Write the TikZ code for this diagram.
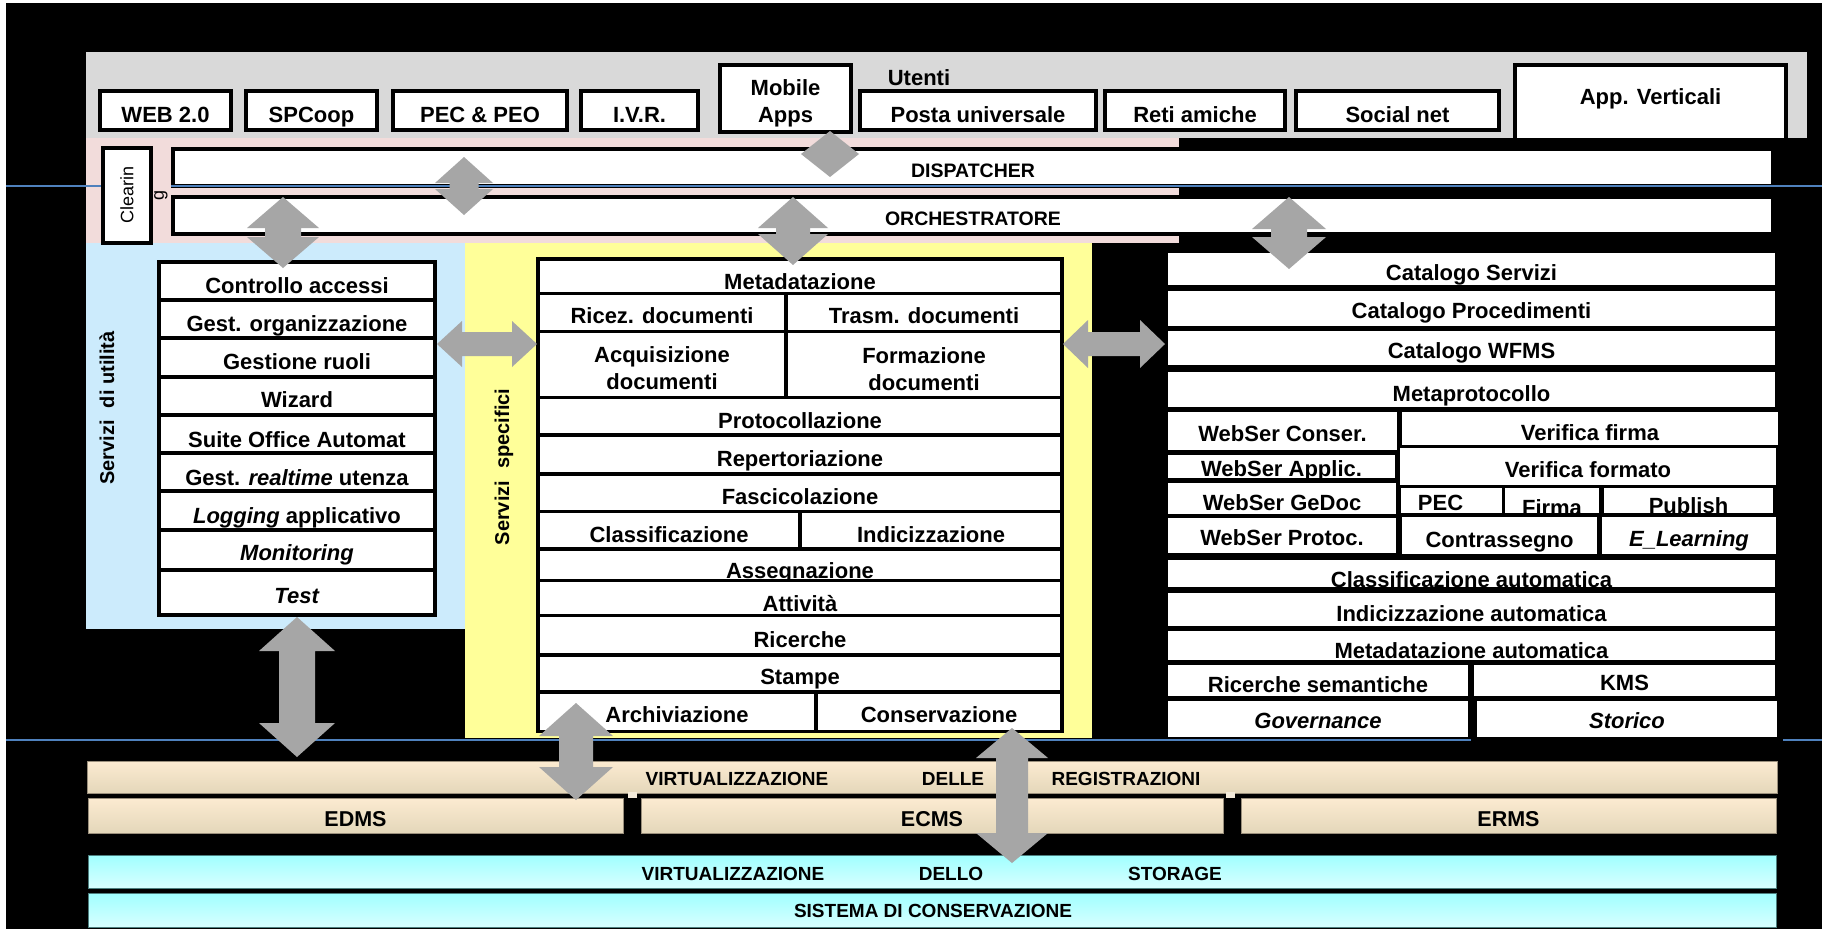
\documentclass[tikz,border=0pt]{standalone}
\usepackage{fontspec}
\setmainfont{Liberation Sans}
\definecolor{graybg}{HTML}{D9D9D9}
\definecolor{pinkbg}{HTML}{F2DCDB}
\definecolor{bluebg}{HTML}{CCEBFC}
\definecolor{yellowbg}{HTML}{FFFF99}
\definecolor{arrowgray}{HTML}{A6A6A6}
\definecolor{bline}{HTML}{4F81BD}
\definecolor{beigeT}{HTML}{FCEBD1}
\definecolor{beigeM}{HTML}{F3EADA}
\definecolor{beigeB}{HTML}{E4D7BA}
\definecolor{beigeE}{HTML}{9A8F7C}
\definecolor{cyanT}{HTML}{A0FFFF}
\definecolor{cyanB}{HTML}{D8FFFF}
\definecolor{cyanE}{HTML}{4D7F7F}
\tikzset{
  sbx/.style={draw=black, line width=3.5pt, fill=white, inner sep=0pt, outer sep=0pt},
  wbx/.style={fill=white, draw=none, inner sep=0pt, outer sep=0pt},
  txt/.style={font=\bfseries\fontsize{22}{26}\selectfont, inner sep=0pt, anchor=base},
  stxt/.style={font=\bfseries\fontsize{19.5}{23}\selectfont},
  btxt/.style={font=\bfseries\fontsize{19}{23}\selectfont, inner sep=0pt, anchor=base},
  mtxt/.style={font=\bfseries\fontsize{21.5}{25}\selectfont, inner sep=0pt, anchor=base},
  rlbl/.style={font=\bfseries\fontsize{20}{24}\selectfont, rotate=90, inner sep=0pt},
  beigebar/.style={top color=beigeT, middle color=beigeM, bottom color=beigeB, draw=beigeE, line width=0.8pt, inner sep=0pt, outer sep=0pt},
  cyanbar/.style={top color=cyanT, bottom color=cyanB, draw=cyanE, line width=0.8pt, inner sep=0pt, outer sep=0pt},
  blueln/.style={draw=bline, line width=2.5pt},
  agray/.style={fill=arrowgray}
}
% bordered cell: [text opts]{name}{x1}{y1}{x2}{y2}{baseline}{text}
\newcommand\bcell[8][]{%
  \node[sbx, minimum width={#5-#3}, minimum height={#6-#4}] (#2) at ({(#3+#5)/2},{(#4+#6)/2}) {};
  \begin{scope}
    \clip ({#3+1.75},{#4+1.75}) rectangle ({#5-1.75},{#6-1.75});
    \node[txt,#1] (#2t) at ({(#3+#5)/2},#7) {#8};
  \end{scope}}
% white cell without border
\newcommand\wcell[8][]{%
  \node[wbx, minimum width={#5-#3}, minimum height={#6-#4}] (#2) at ({(#3+#5)/2},{(#4+#6)/2}) {};
  \begin{scope}
    \clip (#3,#4) rectangle (#5,#6);
    \node[txt,#1] (#2t) at ({(#3+#5)/2},#7) {#8};
  \end{scope}}
% vertical double block arrow: cx, ytop, ybot, head half width, shaft half width, head length
\newcommand\varr[6]{%
  \fill[agray] (#1,#2) -- ({#1+#4},{#2+#6}) -- ({#1+#5},{#2+#6}) -- ({#1+#5},{#3-#6}) -- ({#1+#4},{#3-#6}) -- (#1,#3)
    -- ({#1-#4},{#3-#6}) -- ({#1-#5},{#3-#6}) -- ({#1-#5},{#2+#6}) -- ({#1-#4},{#2+#6}) -- cycle;}
% horizontal double block arrow: cy, xleft, xright, head half height, shaft half height, head length
\newcommand\harr[6]{%
  \fill[agray] (#2,#1) -- ({#2+#6},{#1-#4}) -- ({#2+#6},{#1-#5}) -- ({#3-#6},{#1-#5}) -- ({#3-#6},{#1-#4}) -- (#3,#1)
    -- ({#3-#6},{#1+#4}) -- ({#3-#6},{#1+#5}) -- ({#2+#6},{#1+#5}) -- ({#2+#6},{#1+#4}) -- cycle;}
\begin{document}
\begin{tikzpicture}[x=1pt,y=-1pt]
\useasboundingbox (0,0) rectangle (1822,929);
\fill[white] (0,0) rectangle (1822,929);
\fill[black] (6,3) rectangle (1822,929);
% panels
\fill[graybg] (86,52) rectangle (1807,138);
\fill[pinkbg] (86,138) rectangle (1179,243);
\fill[bluebg] (86,243) rectangle (465,629);
\fill[yellowbg] (465,243) rectangle (1092,738);
\node[txt] (utenti) at (919,85) {Utenti};
% top row
\bcell{web}{100}{91}{231}{130}{122}{WEB 2.0}
\bcell{spc}{246}{91}{377}{130}{122}{SPCoop}
\bcell{pec}{393}{91}{567}{130}{122}{PEC \& PEO}
\bcell{ivr}{581}{91}{698}{130}{122}{I.V.R.}
\bcell{mob}{720}{65}{851}{132}{95}{Mobile}
\node[txt] (mobt2) at (785.5,122) {Apps};
\bcell{posta}{860}{91}{1096}{130}{122}{Posta universale}
\bcell{reti}{1105}{91}{1285}{130}{122}{Reti amiche}
\bcell{social}{1296}{91}{1499}{130}{122}{Social net}
\bcell{appv}{1515}{65}{1786}{140}{104}{App. Verticali}
% clearing
\node[sbx, minimum width=48, minimum height=95] (clr) at (127,195.5) {};
\node[font=\fontsize{18}{20}\selectfont, rotate=90, inner sep=0pt] (clrt) at (127,195) {Clearin};
\node[font=\fontsize{18}{20}\selectfont, rotate=90, inner sep=0pt] (clrg) at (161,195) {g};
% dispatcher / orchestratore
\bcell[stxt]{disp}{173}{149}{1773}{186}{177}{DISPATCHER}
\bcell[stxt]{orch}{173}{197}{1773}{234}{225}{ORCHESTRATORE}
% utility services
\node[rlbl] (lblu) at (107,408) {Servizi\hspace{0.6em}di utilità};
\bcell{u1}{159}{262}{435}{300}{293}{Controllo accessi}
\bcell{u2}{159}{300}{435}{338}{331}{Gest. organizzazione}
\bcell{u3}{159}{338}{435}{377}{369}{Gestione ruoli}
\bcell{u4}{159}{377}{435}{415}{407}{Wizard}
\bcell{u5}{159}{415}{435}{453}{447}{Suite Office Automat}
\bcell{u6}{159}{453}{435}{491}{485}{Gest. \textit{realtime} utenza}
\bcell{u7}{159}{491}{435}{530}{523}{\textit{Logging} applicativo}
\bcell{u8}{159}{530}{435}{570}{560}{\textit{Monitoring}}
\bcell{u9}{159}{570}{435}{615}{603}{\textit{Test}}
% specific services
\node[rlbl] (lbls) at (504,467) {Servizi\hspace{0.6em}specifici};
\bcell{s1}{538}{259}{1062}{293.5}{289}{Metadatazione}
\bcell{s2a}{538}{293.5}{786}{331.5}{323}{Ricez. documenti}
\bcell{s2b}{786}{293.5}{1062}{331.5}{323}{Trasm. documenti}
\bcell{s3a}{538}{331.5}{786}{397.5}{362}{Acquisizione}
\node[txt] (s3a2) at (662,389) {documenti};
\bcell{s3b}{786}{331.5}{1062}{397.5}{363}{Formazione}
\node[txt] (s3b2) at (924,390) {documenti};
\bcell{s4}{538}{397.5}{1062}{435}{428}{Protocollazione}
\bcell{s5}{538}{435}{1062}{474}{466}{Repertoriazione}
\bcell{s6}{538}{474}{1062}{511.5}{504}{Fascicolazione}
\bcell{s7a}{538}{511.5}{800}{549}{542}{Classificazione}
\bcell{s7b}{800}{511.5}{1062}{549}{542}{Indicizzazione}
\bcell{s8}{538}{549}{1062}{580.5}{578}{Assegnazione}
\bcell{s9}{538}{580.5}{1062}{615.5}{611}{Attività}
\bcell{s10}{538}{615.5}{1062}{655}{647}{Ricerche}
\bcell{s11}{538}{655}{1062}{692}{684}{Stampe}
\bcell{s12a}{538}{692}{816}{731.5}{722}{Archiviazione}
\bcell{s12b}{816}{692}{1062}{731.5}{722}{Conservazione}
% catalog column
\wcell{c1}{1168}{253}{1775}{285}{280}{Catalogo Servizi}
\wcell{c2}{1168}{291}{1775}{326}{318}{Catalogo Procedimenti}
\wcell{c3}{1168}{331}{1775}{365}{358}{Catalogo WFMS}
\wcell{c4}{1168}{372}{1775}{407}{401}{Metaprotocollo}
\wcell{c5a}{1168}{412}{1397}{450}{441}{WebSer Conser.}
\wcell{c5b}{1402}{412}{1778}{445}{440}{Verifica firma}
\wcell{c6a}{1168}{455}{1395}{478}{476}{WebSer Applic.}
\wcell{c6b}{1400}{448}{1776}{485}{477}{Verifica formato}
\wcell{c7a}{1168}{483}{1396}{514}{510}{WebSer GeDoc}
\wcell[xshift=-11pt]{c7b}{1401}{488}{1502}{513}{510}{PEC}
\wcell{c7c}{1505}{488}{1599}{513}{515}{Firma}
\wcell{c7d}{1604}{488}{1773}{513}{513}{Publish}
\wcell{c8a}{1168}{518}{1396}{553}{545}{WebSer Protoc.}
\wcell{c8b}{1402}{517}{1597}{554}{547}{Contrassegno}
\wcell{c8c}{1602}{517}{1776}{554}{546}{\textit{E\_Learning}}
\wcell{c9}{1168}{560}{1775}{587}{587}{Classificazione automatica}
\wcell{c10}{1168}{593}{1775}{626}{621}{Indicizzazione automatica}
\wcell{c11}{1168}{631}{1775}{660}{658}{Metadatazione automatica}
\wcell{c12a}{1168}{665}{1468}{696}{692}{Ricerche semantiche}
\wcell{c12b}{1474}{665}{1775}{696}{690}{KMS}
\wcell{c13a}{1168}{701}{1468}{737}{728}{\textit{Governance}}
\wcell{c13b}{1477}{701}{1777}{737}{728}{\textit{Storico}}
% blue lines
\draw[blueln] (6,186) -- (101,186);
\draw[blueln] (171,186) -- (1822,186);
\draw[blueln] (6,740) -- (1471,740);
\draw[blueln] (1783,740) -- (1822,740);
% bottom layers
\node[beigebar, minimum width=1690, minimum height=32] (vreg) at (932,777) {};
\node[btxt] (vreg1) at (737,785) {VIRTUALIZZAZIONE};
\node[btxt] (vreg2) at (953,785) {DELLE};
\node[btxt] (vreg3) at (1126,785) {REGISTRAZIONI};
\fill[beigeM] (628,792) rectangle (637,798);
\fill[beigeM] (1226,792) rectangle (1235,798);
\node[beigebar, minimum width=535, minimum height=35] (edms) at (355.5,815.5) {};
\node[mtxt] (edmst) at (355.5,826) {EDMS};
\node[beigebar, minimum width=582, minimum height=35] (ecms) at (932,815.5) {};
\node[mtxt] (ecmst) at (932,826) {ECMS};
\node[beigebar, minimum width=535, minimum height=35] (erms) at (1508.5,815.5) {};
\node[mtxt] (ermst) at (1508.5,826) {ERMS};
\node[cyanbar, minimum width=1688, minimum height=33] (stor) at (932,871.5) {};
\node[btxt] (stor1) at (733,880) {VIRTUALIZZAZIONE};
\node[btxt] (stor2) at (951,880) {DELLO};
\node[btxt] (stor3) at (1175,880) {STORAGE};
\node[cyanbar, minimum width=1688, minimum height=34] (sist) at (932,910) {};
\node[btxt] (sistt) at (933,917) {SISTEMA DI CONSERVAZIONE};
% block arrows
\varr{830}{131}{177}{29}{0}{23}
\varr{464}{157}{215}{29}{14.5}{26}
\varr{283}{197}{268}{36}{18}{31}
\varr{793}{197}{265}{35}{17}{31}
\varr{1289}{197}{269}{37}{18}{32}
\varr{297}{617}{757}{38}{18}{34}
\varr{576}{703}{800}{37}{17}{33}
\varr{1012}{728}{863}{36}{16}{30}
\harr{344}{437}{537}{23}{12}{25}
\harr{344}{1063}{1165}{24}{12}{25}
\end{tikzpicture}
\end{document}
